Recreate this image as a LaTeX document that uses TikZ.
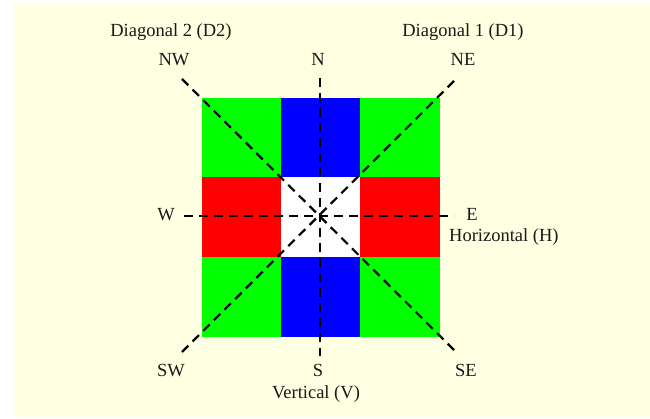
\documentclass[tikz,border=0pt]{standalone}
\usepackage{fontspec}
\setmainfont{Liberation Serif}
\usetikzlibrary{positioning}
\definecolor{dirbg}{RGB}{255,255,225}
\definecolor{dirgreen}{RGB}{0,255,0}
\definecolor{dirblue}{RGB}{0,0,255}
\definecolor{dirred}{RGB}{255,0,0}
\tikzset{
  lbl/.style={font=\fontsize{18.5}{22}\selectfont, inner sep=0pt, text=black!90, anchor=base},
  dirline/.style={draw=black, line width=2.2pt, dash pattern=on 9pt off 6pt},
  every picture/.append style={line join=round}
}
\begin{document}
\begin{tikzpicture}[x=1pt,y=-1pt]
  \useasboundingbox (0,0) rectangle (650,419);
  \fill[white] (0,0) rectangle (650,419);
  \fill[dirbg] (13,4) rectangle (650,417);
  % cells of the 3x3 block
  \fill[dirgreen] (202,98) rectangle (440,337);
  \fill[dirblue] (281,98) rectangle (360,337);
  \fill[dirred] (202,177) rectangle (440,257);
  \fill[white] (281,177) rectangle (360,257);
  % line ends
  \coordinate (c) at (320,216);
  \coordinate (nw) at (182,79);
  \coordinate (se) at (456,352);
  \coordinate (ne) at (456,79);
  \coordinate (sw) at (182,352);
  \coordinate (n) at (320,78);
  \coordinate (s) at (320,356);
  \coordinate (w) at (184,216);
  \coordinate (e) at (454,216);
  \draw[dirline] (n) -- (s);
  \draw[dirline] (w) -- (e);
  \draw[dirline] (nw) -- (se);
  \draw[dirline] (sw) -- (ne);
  % labels
  \node[lbl] (d2) at (171,37) {Diagonal 2 (D2)};
  \node[lbl] (d1) at (463,37) {Diagonal 1 (D1)};
  \node[lbl] (lnw) at (174,66) {NW};
  \node[lbl] (ln) at (318,66) {N};
  \node[lbl] (lne) at (463,66) {NE};
  \node[lbl] (lw) at (166,221) {W};
  \node[lbl] (le) at (472,221) {E};
  \node[lbl, anchor=base west] (hor) at (449,242) {Horizontal (H)};
  \node[lbl] (lsw) at (171,376) {SW};
  \node[lbl] (ls) at (318,376) {S};
  \node[lbl] (lse) at (466,376) {SE};
  \node[lbl] (ver) at (316,398) {Vertical (V)};
\end{tikzpicture}
\end{document}
